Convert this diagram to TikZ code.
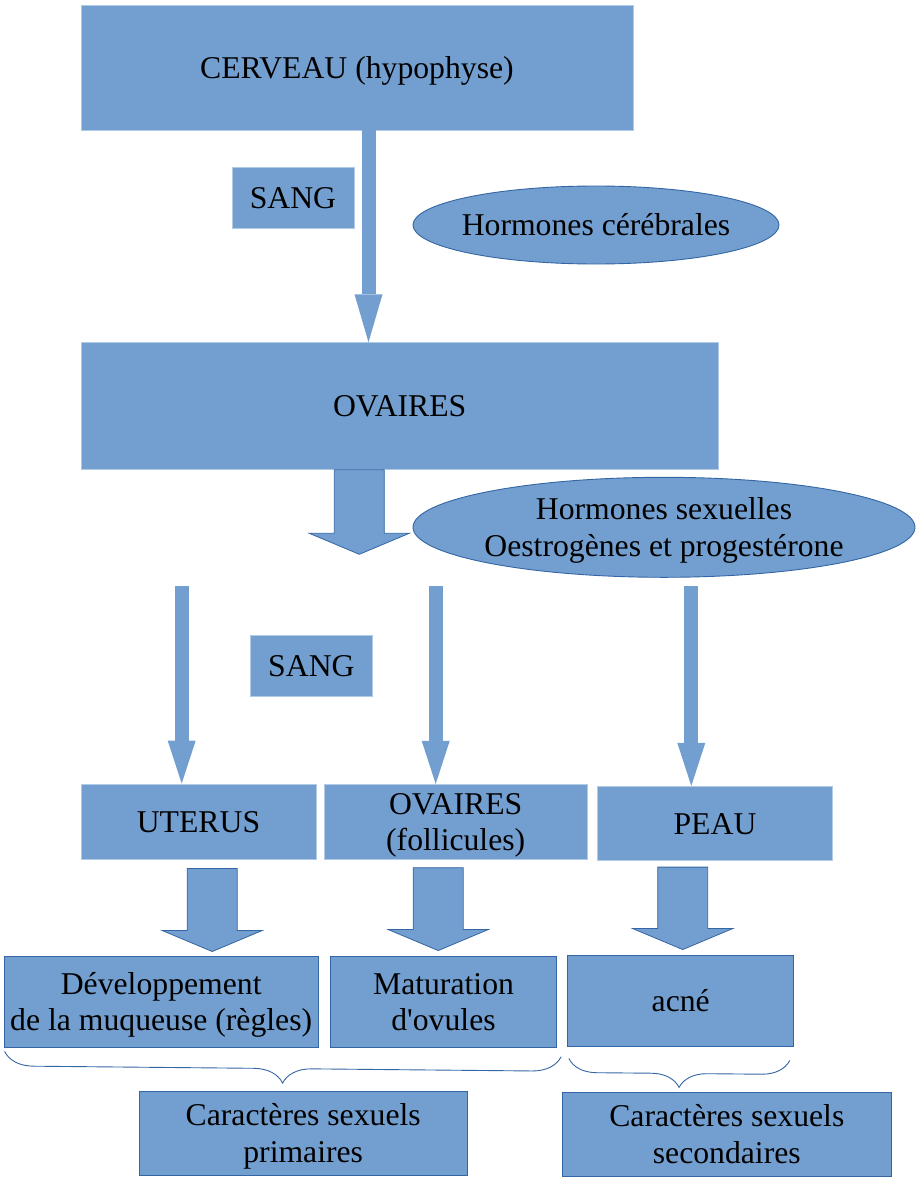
\documentclass[tikz,border=0pt]{standalone}
\usepackage{fontspec}
\setmainfont{Liberation Serif}
\usetikzlibrary{arrows.meta,calc,shapes.geometric,decorations.pathreplacing}
\definecolor{boxblue}{HTML}{729FCF}
\definecolor{edgeblue}{HTML}{3465A4}
\newcommand{\lo}[1]{\rule{0pt}{0.891em}#1\rule[-0.216em]{0pt}{0.216em}}
\tikzset{
  every node/.style={font=\fontsize{31.7}{36.5}\selectfont, align=center, inner sep=0pt},
  box/.style={rectangle, fill=boxblue, draw=boxblue!55!white, line width=0.8pt},
  outlined/.style={rectangle, fill=boxblue, draw=edgeblue, line width=0.9pt},
  oval/.style={ellipse, fill=boxblue, draw=edgeblue, line width=0.9pt},
  thinarrow/.style={draw=boxblue, line width=14pt, -{Triangle[width=28pt,length=#1,line width=0pt]}},
  thinarrow/.default=43pt,
  fatarrow/.style={fill=boxblue, draw=edgeblue, line width=0.8pt, to path={
    let \p1=(\tikztostart), \p2=(\tikztotarget) in
    (\x1-25pt,\y1) -- (\x1+25pt,\y1) -- (\x1+25pt,\y2+21pt) -- (\x1+50pt,\y2+21pt)
    -- (\x1,\y2) -- (\x1-50pt,\y2+21pt) -- (\x1-25pt,\y2+21pt) -- cycle}},
  bracket/.style={draw=edgeblue, line width=0.9pt, decorate, decoration={brace, mirror, amplitude=#1}},
}
\begin{document}
\begin{tikzpicture}[x=1pt, y=-1pt]
  \useasboundingbox (0,0) rectangle (922,1180);
  \node[box, minimum width=552pt, minimum height=125pt] (cerveau) at (357,67.5) {\lo{CERVEAU (hypophyse)}};
  \node[box, minimum width=122pt, minimum height=61pt] (sang1) at (293,197.8) {\lo{SANG}};
  \node[oval, inner xsep=-6pt, minimum width=366pt, minimum height=78pt] (hcereb) at (596,225) {\lo{Hormones cérébrales}};
  \node[box, minimum width=637pt, minimum height=126.6pt] (ovaires) at (399.7,406) {\lo{OVAIRES}};
  \node[oval, inner xsep=-2.5pt, inner ysep=-1pt, minimum width=502pt, minimum height=100pt] (hsex) at (664,527.3) {\lo{Hormones sexuelles\\Oestrogènes et progestérone}};
  \node[box, minimum width=122.7pt, minimum height=61pt] (sang2) at (311.4,665.5) {\lo{SANG}};
  \node[box, minimum width=235pt, minimum height=75pt] (uterus) at (198.5,821.5) {\lo{UTERUS}};
  \node[box, minimum width=263.3pt, minimum height=75pt] (ovfol) at (455.7,821.8) {\lo{OVAIRES\\(follicules)}};
  \node[box, minimum width=234.6pt, minimum height=74.4pt] (peau) at (715,823.5) {\lo{PEAU}};
  \node[outlined, minimum width=314.3pt, minimum height=90.3pt] (devel) at (161.2,1001.8) {\lo{Développement\\de la muqueuse (règles)}};
  \node[outlined, minimum width=226.4pt, minimum height=91pt] (matur) at (443.5,1001.8) {\lo{Maturation\\d\textquotesingle ovules}};
  \node[outlined, minimum width=226pt, minimum height=91pt] (acne) at (680.7,1001.2) {\lo{acné}};
  \node[outlined, minimum width=328.3pt, minimum height=83.3pt] (prim) at (303.2,1133.3) {\lo{Caractères sexuels\\primaires}};
  \node[outlined, minimum width=328.3pt, minimum height=83.3pt] (second) at (726.8,1134.3) {\lo{Caractères sexuels\\secondaires}};

  \coordinate (t0) at (368.5,0);
  \draw[thinarrow=48pt] (cerveau.south -| t0) -- (ovaires.north -| t0);
  \coordinate (s1) at (181.7,585.7);
  \coordinate (s2) at (435.7,585.7);
  \coordinate (s3) at (691.3,586);
  \draw[thinarrow] (s1) -- (uterus.north -| s1);
  \draw[thinarrow] (s2) -- (ovfol.north -| s2);
  \draw[thinarrow] (s3) -- (peau.north -| s3);

  \coordinate (b0) at (359.3,554.3);
  \coordinate (b1) at (212.2,0);
  \coordinate (b2) at (438.2,0);
  \coordinate (b3) at (682.7,0);
  \draw[fatarrow] (ovaires.south -| b0) to (b0);
  \draw[fatarrow] ($(uterus.south -| b1)+(0,9)$) to ($(devel.north -| b1)+(0,-4.7)$);
  \draw[fatarrow] ($(ovfol.south -| b2)+(0,8)$) to ($(matur.north -| b2)+(0,-5.3)$);
  \draw[fatarrow] ($(peau.south -| b3)+(0,6)$) to ($(acne.north -| b3)+(0,-5.7)$);

  \draw[bracket=29pt] ($(devel.south west)+(1,4)$) -- ($(matur.south east)+(4,9)$);
  \draw[bracket=28pt] ($(acne.south west)+(1.6,11.3)$) -- ($(acne.south east)+(-4.4,13.3)$);
\end{tikzpicture}
\end{document}
